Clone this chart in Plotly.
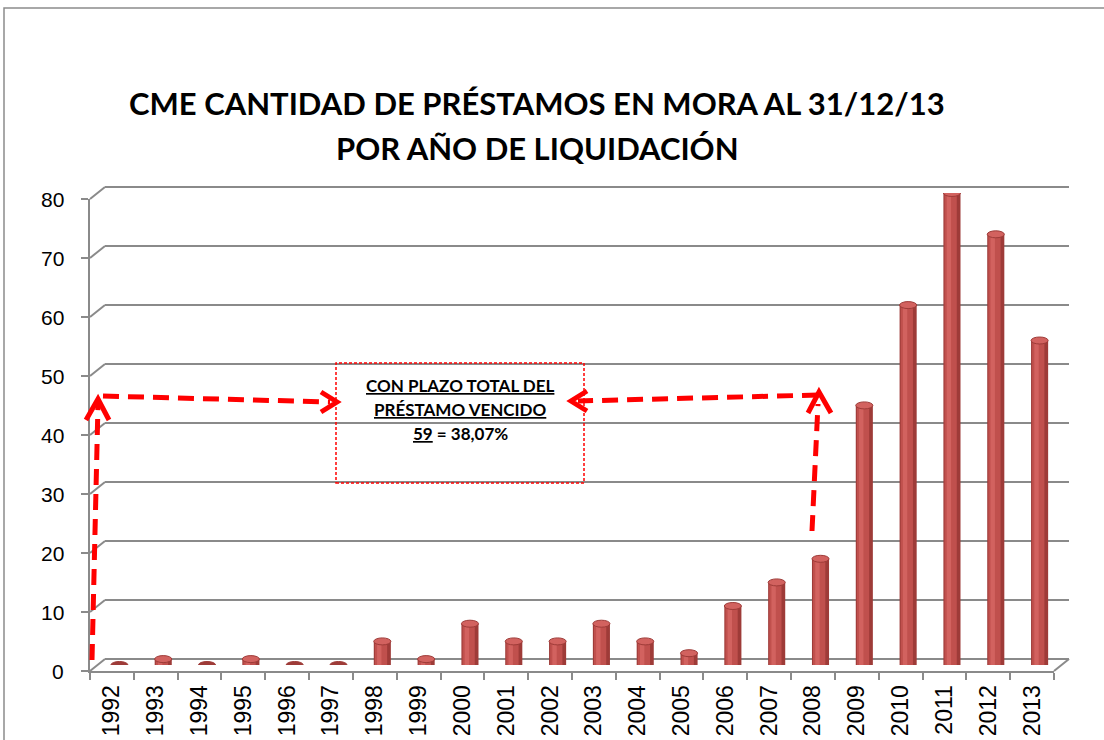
import plotly.graph_objects as go

# ---- data ----
years = [str(y) for y in range(1992, 2014)]
prestamos = [0, 1, 0, 1, 0, 0, 4, 1, 7, 4, 4, 7, 4, 2, 10, 14, 18, 44, 61, 80, 73, 55]
y_ticks = list(range(0, 81, 10))
title_l1 = "CME CANTIDAD DE PRÉSTAMOS EN MORA AL 31/12/13"
title_l2 = "POR AÑO DE LIQUIDACIÓN"
box_lines = ["<b><u>CON PLAZO TOTAL DEL</u></b>",
             "<b><u>PRÉSTAMO VENCIDO</u></b>",
             "<b><u>59</u> = 38,07%</b>"]

W, H = 1104, 740
def px(x): return x / W
def py(y): return 1 - y / H

# geometry (pixels)
FX0, FX1 = 90, 1054          # front plot x extent
FY0, FY80 = 671, 199         # front y for 0 and 80
DX, DY = 15, -12             # depth offset of back wall
BX0, BX1 = FX0 + DX, FX1 + DX
def yfront(v): return FY0 + (FY80 - FY0) * v / 80.0
def yback(v): return yfront(v) + DY

GRID = "#8a8a8a"
RED = "#FF0000"
BAR = "#C0504D"
BAR_DARK = "#9E3B38"
BAR_LIGHT = "#D2625F"

fig = go.Figure()

# bars (mid depth)
fig.add_trace(go.Bar(x=years, y=prestamos, width=0.39, offset=-0.195,
                     marker=dict(color=BAR_DARK, line=dict(width=0)),
                     xaxis="x", yaxis="y", showlegend=False, hoverinfo="skip"))
fig.add_trace(go.Bar(x=years, y=prestamos, width=0.28, offset=-0.17,
                     marker=dict(color=BAR, line=dict(width=0)),
                     xaxis="x", yaxis="y", showlegend=False, hoverinfo="skip"))
fig.add_trace(go.Bar(x=years, y=prestamos, width=0.10, offset=-0.12,
                     marker=dict(color=BAR_LIGHT, line=dict(width=0)),
                     xaxis="x", yaxis="y", showlegend=False, hoverinfo="skip"))

# invisible trace for the front axes
fig.add_trace(go.Scatter(x=years, y=prestamos, mode="markers", marker=dict(opacity=0),
                         xaxis="x2", yaxis="y2", showlegend=False, hoverinfo="skip"))

shapes = []
# chart border
shapes.append(dict(type="rect", xref="paper", yref="paper", x0=px(4), x1=px(1110),
                   y0=py(760), y1=py(8), line=dict(color="#8c8c8c", width=1.5),
                   fillcolor="rgba(0,0,0,0)", layer="below"))
# back gridlines + connectors
for v in y_ticks:
    shapes.append(dict(type="line", xref="paper", yref="paper", x0=px(BX0), x1=px(BX1),
                       y0=py(yback(v)), y1=py(yback(v)), line=dict(color=GRID, width=2),
                       layer="below"))
    shapes.append(dict(type="line", xref="paper", yref="paper", x0=px(FX0), x1=px(BX0),
                       y0=py(yfront(v)), y1=py(yback(v)), line=dict(color=GRID, width=2),
                       layer="below"))
# right floor edge
shapes.append(dict(type="line", xref="paper", yref="paper", x0=px(FX1), x1=px(BX1),
                   y0=py(yfront(0)), y1=py(yback(0)), line=dict(color=GRID, width=2),
                   layer="below"))
# cylinder tops
for i, v in enumerate(prestamos):
    shapes.append(dict(type="circle", xref="x", yref="y", ysizemode="pixel", yanchor=v,
                       x0=i - 0.195, x1=i + 0.195, y0=-3.5, y1=3.5,
                       fillcolor=BAR_LIGHT if v > 0 else BAR_DARK,
                       line=dict(color=BAR_DARK, width=1), layer="above"))

# text box
shapes.append(dict(type="rect", xref="paper", yref="paper", x0=px(336), x1=px(584),
                   y0=py(483), y1=py(363), line=dict(color=RED, width=1.5, dash="3px,2px"),
                   fillcolor="rgba(0,0,0,0)"))

# dashed arrows
def dline(x0, y0, x1, y1):
    shapes.append(dict(type="line", xref="paper", yref="paper", x0=px(x0), y0=py(y0),
                       x1=px(x1), y1=py(y1), line=dict(color=RED, width=5, dash="16px,9px")))
def head(tx, ty, ax, ay, bx, by):
    shapes.append(dict(type="path", xref="paper", yref="paper",
                       path=f"M {px(ax)} {py(ay)} L {px(tx)} {py(ty)} L {px(bx)} {py(by)}",
                       line=dict(color=RED, width=5)))

dline(92, 660, 98, 404)
head(98, 399, 86, 420, 109, 420)
dline(103, 396, 330, 402)
head(337, 402, 321, 392, 321, 412)
dline(818, 395, 578, 401)
head(571, 401, 587, 391, 587, 411)
dline(812, 531, 818, 404)
head(819, 392, 808, 413, 831, 413)

annotations = [
    dict(text=f"<b>{title_l1}</b>", x=px(537), y=py(103), xref="paper", yref="paper",
         showarrow=False, font=dict(family="Lato", size=31, color="black"),
         xanchor="center", yanchor="middle"),
    dict(text=f"<b>{title_l2}</b>", x=px(537), y=py(148), xref="paper", yref="paper",
         showarrow=False, font=dict(family="Lato", size=31, color="black"),
         xanchor="center", yanchor="middle"),
]
for k, line in enumerate(box_lines):
    annotations.append(dict(text=line, x=px(460), y=py(385 + 24 * k), xref="paper", yref="paper",
                            showarrow=False, font=dict(family="Lato", size=17, color="black"),
                            xanchor="center", yanchor="middle"))
# y-axis tick labels (placed next to the front axis ticks)
for v in y_ticks:
    annotations.append(dict(text=str(v), x=px(66), y=v, xref="paper", yref="y2",
                            showarrow=False, xanchor="right", yanchor="middle",
                            font=dict(family="Liberation Sans", size=21, color="black")))

fig.update_layout(
    width=W, height=H, margin=dict(l=0, r=0, t=0, b=0, pad=0, autoexpand=False),
    paper_bgcolor="white", plot_bgcolor="rgba(0,0,0,0)",
    barmode="overlay", showlegend=False,
    shapes=shapes, annotations=annotations,
    xaxis=dict(domain=[px(FX0 + DX / 2), px(FX1 + DX / 2)], anchor="y", type="category",
               categoryorder="array", categoryarray=years, range=[-0.5, 21.5],
               visible=False, fixedrange=True, automargin=False),
    yaxis=dict(domain=[py(yfront(0) + DY / 2), py(yfront(80) + DY / 2)], anchor="x",
               range=[0, 80], visible=False, fixedrange=True, automargin=False),
    xaxis2=dict(domain=[px(FX0), px(FX1)], anchor="y2", type="category",
                categoryorder="array", categoryarray=years, range=[-0.5, 21.5],
                tickson="boundaries", ticks="outside", ticklen=7, tickwidth=2, tickcolor=GRID,
                showline=True, linecolor=GRID, linewidth=2, showgrid=False, tickangle=-90,
                ticklabelstandoff=3,
                tickfont=dict(family="Liberation Sans", size=23, color="black"),
                fixedrange=True, automargin=False),
    yaxis2=dict(domain=[py(yfront(0)), py(yfront(80))], anchor="x2", range=[0, 80],
                tickvals=y_ticks, ticks="outside", ticklen=7, tickwidth=2, tickcolor=GRID,
                showline=True, linecolor=GRID, linewidth=2, showgrid=False, zeroline=False,
                showticklabels=False, fixedrange=True, automargin=False),
)

fig.write_html("out.html", config={"displayModeBar": False},
               post_script="document.body.style.margin='0';")
